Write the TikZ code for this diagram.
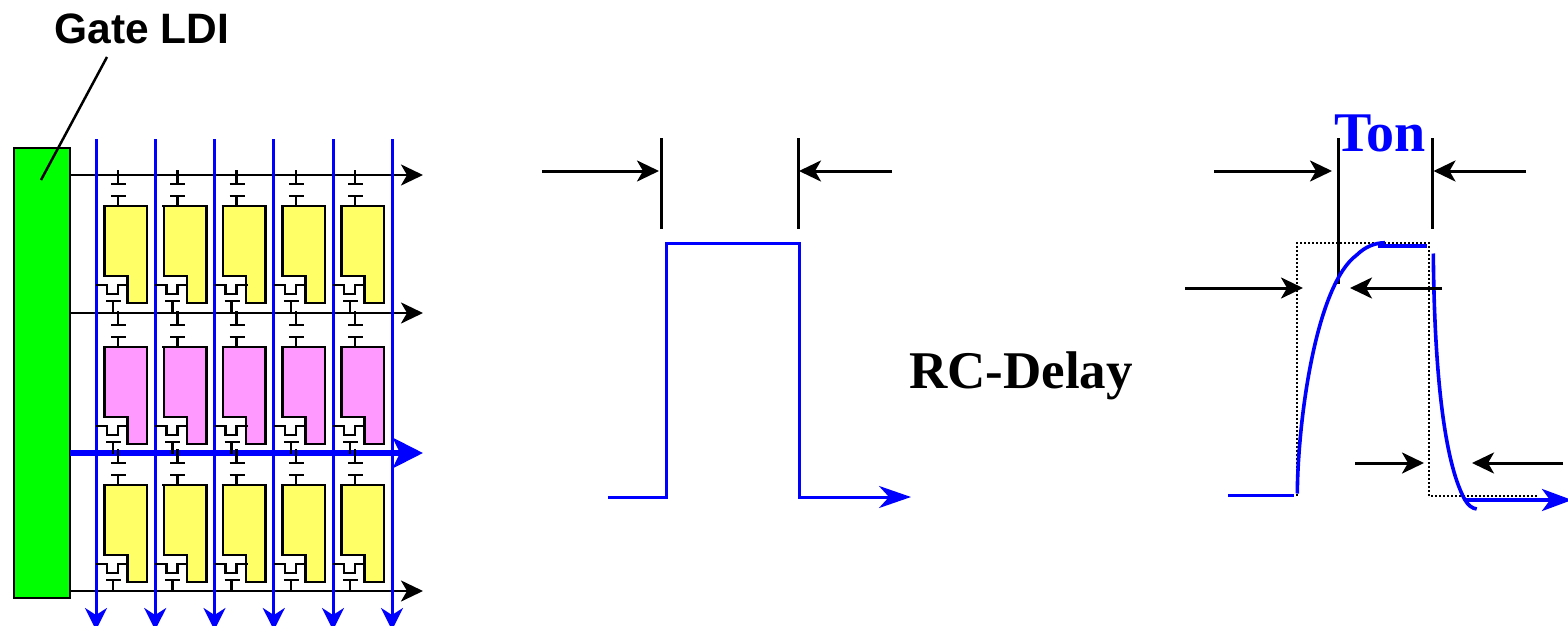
\documentclass[tikz,border=0pt]{standalone}
\usepackage{fontspec}
\setmainfont{Liberation Serif}
\newfontfamily\arialfont{Liberation Sans}
\usetikzlibrary{arrows.meta}
\definecolor{pxyellow}{HTML}{FFFF66}
\definecolor{pxpink}{HTML}{FF99FF}
\definecolor{ldigreen}{HTML}{00FF00}
\definecolor{sigblue}{HTML}{0000FF}
\tikzset{
  x=1pt,y=-1pt,
  blkarrow/.style={draw=black,line width=3pt,-{Stealth[length=22pt,width=21pt,inset=6pt,fill=black]}},
  gateline/.style={draw=black,line width=2.8pt,-{Stealth[length=22pt,width=21pt,inset=6pt,fill=black]}},
  gateblue/.style={draw=sigblue,line width=6pt,-{Stealth[length=30pt,width=30pt,inset=7pt,fill=sigblue]}},
  dataline/.style={draw=sigblue,line width=3pt,-{Stealth[length=22pt,width=22pt,inset=7pt,fill=sigblue]}},
  bluetrace/.style={draw=sigblue,line width=3pt,line join=miter},
  bluecurve/.style={draw=sigblue,line width=3.6pt},
  timebar/.style={draw=black,line width=3pt},
  pxwire/.style={draw=black,line width=2.5pt},
  pxbody/.style={draw=black,line width=2.5pt,line join=miter},
  idealpulse/.style={draw=black,line width=1.8pt,dash pattern=on 1.6pt off 2.4pt},
}
\newcommand{\pixcell}[3]{%
  \begin{scope}[shift={(#1,#2)}]
    \path[pxbody,fill=#3] (7,0) -- (51,0) -- (51,97) -- (31.5,97) -- (31.5,70) -- (8.5,70) -- (8.5,0);
    \draw[pxwire] (22,-36) -- (22,-22) (15,-22) -- (30,-22) (15,-10) -- (30,-10) (22,-10) -- (22,0);
    \draw[pxwire] (0,79) -- (11,79) -- (11,88) -- (22,88) -- (22,79) -- (33,79);
    \draw[pxwire] (10,95) -- (25,95) (17,95) -- (17,107);
  \end{scope}}
\begin{document}
\begin{tikzpicture}
\useasboundingbox (0,0) rectangle (1568,626);
\clip (0,0) rectangle (1568,626);
% Gate driver
\node[draw=black,line width=2.5pt,fill=ldigreen,anchor=north west,inner sep=0pt,outer sep=0pt,minimum width=56pt,minimum height=450pt] (ldi) at (14,148) {};
\node[anchor=base west,inner sep=0pt,font=\arialfont\bfseries\fontsize{42.5}{42.5}\selectfont] (ldilabel) at (54.5,43.5) {Gate LDI};
\coordinate (leadtop) at (107,57);
\coordinate (leadend) at (41,180);
\draw[line width=2.5pt] (leadtop) -- (leadend);
% Gate lines
\foreach \n/\y in {a/175,b/313,c/453,d/591} {
  \coordinate (gs\n) at (70,\y);
  \coordinate (ge\n) at (423,\y);
}
\draw[gateline] (gsa) -- (gea);
\draw[gateline] (gsb) -- (geb);
\draw[gateline] (gsd) -- (ged);
% Data lines
\foreach \n/\x in {1/96,2/155.2,3/214.5,4/273.8,5/333,6/392} {
  \coordinate (ds\n) at (\x,139);
  \coordinate (de\n) at (\x,630);
  \draw[dataline] (ds\n) -- (de\n);
}
\draw[gateblue] (gsc) -- (gec);
% Pixels
\foreach \i in {0,...,4} {
  \pgfmathsetmacro{\cx}{96+59.25*\i}
  \pixcell{\cx}{206}{pxyellow}
  \pixcell{\cx}{347}{pxpink}
  \pixcell{\cx}{485}{pxyellow}
}
% Middle pulse
\coordinate (mbarAt) at (661.7,138); \coordinate (mbarAb) at (661.7,229);
\coordinate (mbarBt) at (798,138);   \coordinate (mbarBb) at (798,229);
\draw[timebar] (mbarAt) -- (mbarAb);
\draw[timebar] (mbarBt) -- (mbarBb);
\coordinate (mlA) at (542,171); \coordinate (mlB) at (659,171);
\coordinate (mrA) at (892,171); \coordinate (mrB) at (799,171);
\draw[blkarrow] (mlA) -- (mlB);
\draw[blkarrow] (mrA) -- (mrB);
\coordinate (p0) at (608,497); \coordinate (p1) at (666.5,497); \coordinate (p2) at (666.5,243.5);
\coordinate (p3) at (799,243.5); \coordinate (p4) at (799,497); \coordinate (p5) at (911,497);
\draw[bluetrace,-{Stealth[length=32pt,width=22pt,inset=10pt,fill=sigblue]}] (p0) -- (p1) -- (p2) -- (p3) -- (p4) -- (p5);
\node[anchor=base west,inner sep=0pt,font=\bfseries\fontsize{53}{53}\selectfont] (rclabel) at (909,388.5) {RC-Delay};
% Right waveform
\node[anchor=base west,inner sep=0pt,text=sigblue,font=\bfseries\fontsize{56}{56}\selectfont] (tonlabel) at (1334.5,151.7) {Ton};
\coordinate (d0) at (1297,496); \coordinate (d1) at (1297,243); \coordinate (d2) at (1429,243);
\coordinate (d3) at (1429,496); \coordinate (d4) at (1538,496);
\draw[idealpulse] (d0) -- (d1) -- (d2) -- (d3) -- (d4);
\coordinate (rbarAt) at (1338,138); \coordinate (rbarAb) at (1338,284);
\coordinate (rbarBt) at (1432,138); \coordinate (rbarBb) at (1432,229);
\draw[timebar] (rbarAt) -- (rbarAb);
\draw[timebar] (rbarBt) -- (rbarBb);
\coordinate (r1a) at (1214,171); \coordinate (r1b) at (1332,171);
\coordinate (r2a) at (1526,171); \coordinate (r2b) at (1433.5,171);
\coordinate (r3a) at (1185,288); \coordinate (r3b) at (1303,288);
\coordinate (r4a) at (1442,288); \coordinate (r4b) at (1350,288);
\coordinate (r5a) at (1355,463); \coordinate (r5b) at (1424,463);
\coordinate (r6a) at (1563,463); \coordinate (r6b) at (1472,463);
\draw[bluecurve] (1228,495.5) -- (1294,495.5);
\draw[bluecurve] (1297.3,493.5) .. controls (1297.8,420) and (1316,285) .. (1356.7,255) .. controls (1365,247) and (1374,243) .. (1385,242.7);
\draw[bluecurve] (1378,246) -- (1427,246);
\draw[bluecurve] (1433.3,253.5) .. controls (1434,340) and (1440,455) .. (1465,500) .. controls (1468,505) and (1472,508.5) .. (1476.7,509);
\coordinate (b0) at (1465,500); \coordinate (b1) at (1572,500);
\draw[bluecurve,-{Stealth[length=30pt,width=22pt,inset=8pt,fill=sigblue]}] (b0) -- (b1);
\draw[blkarrow] (r1a) -- (r1b);
\draw[blkarrow] (r2a) -- (r2b);
\draw[blkarrow] (r3a) -- (r3b);
\draw[blkarrow] (r4a) -- (r4b);
\draw[blkarrow] (r5a) -- (r5b);
\draw[blkarrow] (r6a) -- (r6b);
\end{tikzpicture}
\end{document}
